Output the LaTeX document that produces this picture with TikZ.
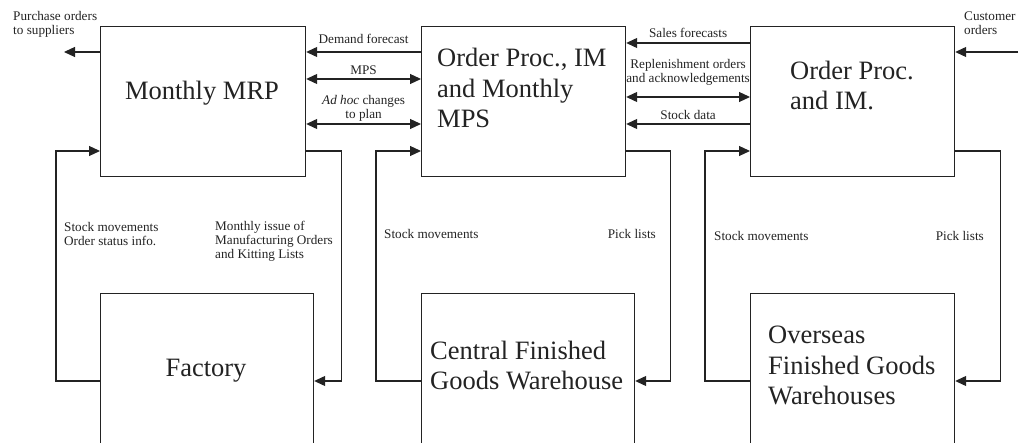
\documentclass[tikz,border=0pt]{standalone}
\usepackage{fontspec}
\setmainfont{Liberation Serif}
\usepackage{tikz}
\usetikzlibrary{arrows.meta, positioning, calc}
\definecolor{linegray}{RGB}{35, 35, 35}
\newcommand{\boxfont}{\fontsize{26.5}{30.5}\selectfont}
\newcommand{\flowfont}{\fontsize{13.2}{14}\selectfont}

\begin{document}
\begin{tikzpicture}[
    x=1pt, y=1pt,
    unit/.style={rectangle, draw=linegray, line width=1.2pt, inner sep=0pt, minimum height=150pt, anchor=north west},
    site/.style={unit, minimum height=180pt},
    boxtext/.style={font=\boxfont, align=left, inner sep=0pt, text=linegray},
    flow/.style={font=\flowfont, align=center, inner sep=0pt, text depth=0pt, text=linegray},
    note/.style={font=\flowfont, align=left, inner sep=0pt, text=linegray},
    arrow/.style={-{Triangle[length=11pt, width=10pt]}, line width=1.2pt, linegray},
    twoway/.style={{Triangle[length=11pt, width=10pt]}-{Triangle[length=11pt, width=10pt]}, line width=1.2pt, linegray}
]
    \useasboundingbox (0,0) rectangle (1034,-443);
    \clip (0,0) rectangle (1034,-443);

    % Planning level
    \node[unit, minimum width=205pt, label={[boxtext, anchor=base, shift={(102,-74)}]north west:Monthly MRP}] (mrp) at (100,-26) {};
    \node[unit, minimum width=204pt, label={[boxtext, anchor=base west, shift={(16,-102)}]north west:Order Proc., IM\\and Monthly\\MPS}] (order) at (421,-26) {};
    \node[unit, minimum width=204pt, label={[boxtext, anchor=base west, shift={(40,-84)}]north west:Order Proc.\\and IM.}] (oim) at (750,-26) {};

    % Physical sites
    \node[site, minimum width=213pt, label={[boxtext, anchor=base, shift={(106,-84)}]north west:Factory}] (factory) at (100,-293) {};
    \node[site, minimum width=213pt, label={[boxtext, anchor=base west, shift={(9,-97)}]north west:Central Finished\\Goods Warehouse}] (cfgw) at (421,-293) {};
    \node[site, minimum width=204pt, label={[boxtext, anchor=base west, shift={(18,-112)}]north west:Overseas\\Finished Goods\\Warehouses}] (ofgw) at (750,-293) {};

    % Outside world
    \coordinate (suppliers) at (64,-52);
    \coordinate (customers) at (1018,-52);
    \node[note, anchor=base west] (purchase) at (13,-35) {Purchase orders\\to suppliers};
    \node[note, anchor=base west] (custorders) at (964,-35) {Customer\\orders};
    \draw[arrow] (mrp.west |- suppliers) -- (suppliers);
    \draw[arrow] (customers) -- (oim.east |- customers);

    % Between planning boxes
    \draw[arrow] ([yshift=-26]order.north west) -- node[flow, above=8pt] {Demand forecast} ([yshift=-26]mrp.north east);
    \draw[twoway] ([yshift=-53]mrp.north east) -- node[flow, above=3.5pt] {MPS} ([yshift=-53]order.north west);
    \draw[twoway] ([yshift=-98]mrp.north east) -- node[flow, above=4.5pt] {\textit{Ad hoc} changes\\to plan} ([yshift=-98]order.north west);
    \draw[arrow] ([yshift=-17]oim.north west) -- node[flow, above=5pt] {Sales forecasts} ([yshift=-17]order.north east);
    \draw[twoway] ([yshift=-71]order.north east) -- node[flow, above=14pt] {Replenishment orders\\and acknowledgements} ([yshift=-71]oim.north west);
    \draw[arrow] ([yshift=-98]oim.north west) -- node[flow, above=4pt] {Stock data} ([yshift=-98]order.north east);

    % Loops to the sites
    \draw[arrow] ([yshift=-88]factory.north west) -- ++(-44,0) |- ([yshift=-125]mrp.north west);
    \draw[arrow] ([yshift=-125]mrp.north east) -- ++(35,0) |- ([yshift=-88]factory.north east);
    \draw[arrow] ([yshift=-88]cfgw.north west) -- ++(-45,0) |- ([yshift=-125]order.north west);
    \draw[arrow] ([yshift=-125]order.north east) -- ++(44,0) |- ([yshift=-88]cfgw.north east);
    \draw[arrow] ([yshift=-88]ofgw.north west) -- ++(-45,0) |- ([yshift=-125]oim.north west);
    \draw[arrow] ([yshift=-125]oim.north east) -- ++(45,0) |- ([yshift=-88]ofgw.north east);

    % Loop labels
    \node[note, anchor=base west] (facstock) at (64,-246) {Stock movements\\Order status info.};
    \node[note, anchor=base west] (facissue) at (215,-259) {Monthly issue of\\Manufacturing Orders\\and Kitting Lists};
    \node[note, anchor=base west] (censtock) at (384,-239) {Stock movements};
    \node[note, anchor=base east] (cenpick) at (656,-239) {Pick lists};
    \node[note, anchor=base west] (ovsstock) at (714,-241) {Stock movements};
    \node[note, anchor=base east] (ovspick) at (984,-241) {Pick lists};

\end{tikzpicture}
\end{document}
